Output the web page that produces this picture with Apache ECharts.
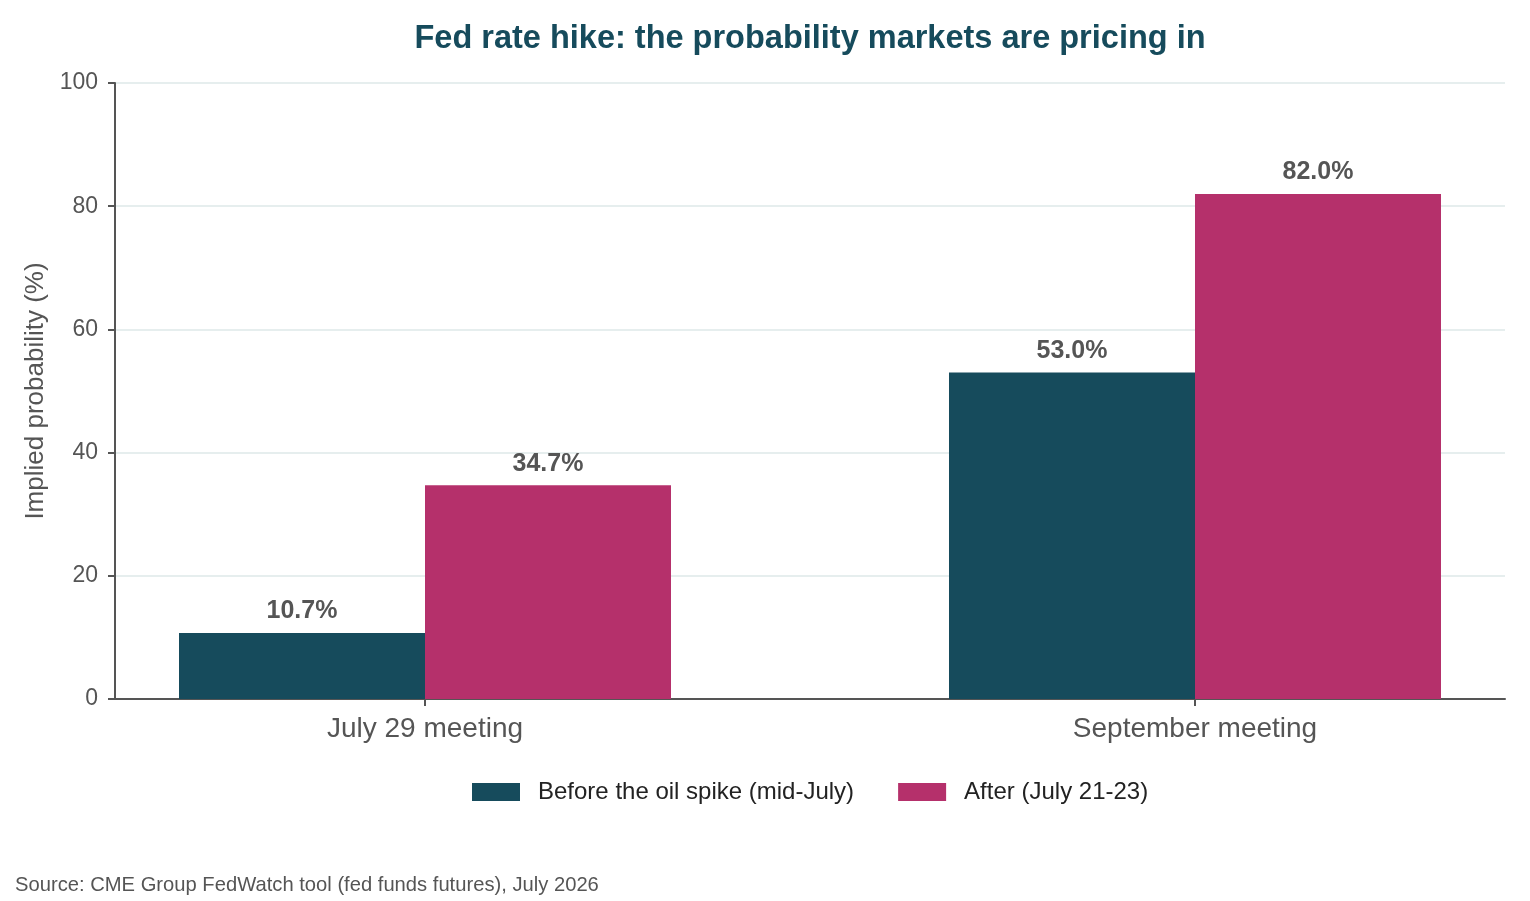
<!DOCTYPE html>
<html>
<head>
<meta charset="utf-8">
<script src="https://cdn.jsdelivr.net/npm/echarts@6/dist/echarts.min.js"></script>
<style>
  html, body { margin: 0; padding: 0; background: #fff; }
  #chart { width: 1530px; height: 901px; }
</style>
</head>
<body>
<div id="chart"></div>
<script>
const meetings = ['July 29 meeting', 'September meeting'];
const beforeSpike = [10.7, 53.0];
const afterSpike = [34.7, 82.0];
const seriesNames = ['Before the oil spike (mid-July)', 'After (July 21-23)'];
const yTicks = [0, 20, 40, 60, 80, 100];

const teal = '#164b5c';
const magenta = '#b5306b';
const axisGrey = '#555';

const chart = echarts.init(document.getElementById('chart'));

const makeSeries = (name, values, color) => ({
  name: name,
  type: 'bar',
  data: values.map((v, i) => [i, v]),
  barWidth: 246,
  barGap: '0%',
  itemStyle: { color: color },
  label: {
    show: true,
    position: 'top',
    distance: 9,
    formatter: (p) => p.value[1].toFixed(1) + '%',
    fontFamily: 'Liberation Sans',
    fontWeight: 'bold',
    fontSize: 25,
    color: axisGrey
  }
});

chart.setOption({
  animation: false,
  textStyle: { fontFamily: 'Liberation Sans' },
  title: [{
    text: 'Fed rate hike: the probability markets are pricing in',
    left: 810,
    textAlign: 'center',
    top: 23,
    padding: 0,
    textStyle: { fontFamily: 'Liberation Sans', fontWeight: 'bold', fontSize: 32.5, color: teal }
  }, {
    text: 'Source: CME Group FedWatch tool (fed funds futures), July 2026',
    left: 15,
    top: 875,
    padding: 0,
    textStyle: { fontFamily: 'Liberation Sans', fontWeight: 'normal', fontSize: 20.2, color: axisGrey }
  }],
  legend: {
    left: 472,
    top: 780,
    padding: 0,
    itemWidth: 48,
    itemHeight: 18,
    itemGap: 44,
    icon: 'rect',
    textStyle: { fontFamily: 'Liberation Sans', fontSize: 24, color: '#222', padding: [0, 0, 0, 13] },
    data: seriesNames
  },
  grid: { left: 115, right: 25, top: 83, bottom: 202, containLabel: false },
  xAxis: {
    type: 'value',
    min: -0.4026,
    max: 1.4026,
    axisLine: { show: true, onZero: false, lineStyle: { color: axisGrey, width: 2 } },
    axisTick: { show: true, customValues: [0, 1], length: 7, lineStyle: { color: axisGrey, width: 2 } },
    axisLabel: {
      customValues: [0, 1],
      formatter: (v) => meetings[Math.round(v)],
      fontFamily: 'Liberation Sans',
      fontSize: 28,
      color: axisGrey,
      margin: 16
    },
    splitLine: { show: false }
  },
  yAxis: {
    type: 'value',
    min: yTicks[0],
    max: yTicks[yTicks.length - 1],
    interval: 20,
    name: 'Implied probability (%)',
    nameLocation: 'middle',
    nameGap: 65,
    nameTextStyle: { fontFamily: 'Liberation Sans', fontSize: 26, color: axisGrey },
    axisLine: { show: true, onZero: false, lineStyle: { color: axisGrey, width: 2 } },
    axisTick: { show: true, length: 7, lineStyle: { color: axisGrey, width: 2 } },
    axisLabel: { fontFamily: 'Liberation Sans', fontSize: 23, color: axisGrey, margin: 17 },
    splitLine: { show: true, lineStyle: { color: '#e6eeee', width: 2 } }
  },
  series: [
    makeSeries(seriesNames[0], beforeSpike, teal),
    makeSeries(seriesNames[1], afterSpike, magenta)
  ]
});
</script>
</body>
</html>
